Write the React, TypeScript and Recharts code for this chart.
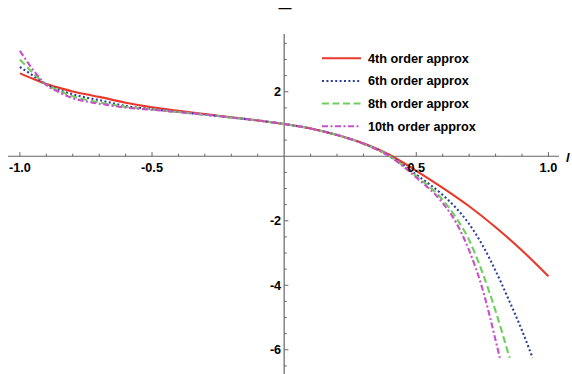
import React from 'react';
import { LineChart, Line, XAxis, YAxis, ReferenceLine, ReferenceDot } from 'recharts';

// 4th order approx (red, solid)
const x4 = [-1, -0.95, -0.9, -0.85, -0.8, -0.75, -0.7, -0.6, -0.5, -0.4, -0.3, -0.2, -0.1, 0, 0.1, 0.2, 0.3, 0.4, 0.5, 0.6, 0.7, 0.8, 0.9, 1.0];
const y4 = [2.57, 2.4, 2.24, 2.12, 2.01, 1.92, 1.84, 1.66, 1.52, 1.41, 1.31, 1.21, 1.11, 1.0, 0.86, 0.66, 0.4, 0.04, -0.45, -0.98, -1.55, -2.2, -2.92, -3.72];

// 6th order approx (blue, dotted)
const x6 = [-1, -0.95, -0.9, -0.85, -0.8, -0.75, -0.7, -0.6, -0.5, -0.4, -0.3, -0.2, -0.1, 0, 0.1, 0.2, 0.3, 0.4, 0.5, 0.6, 0.65, 0.7, 0.75, 0.8, 0.85, 0.9, 0.94];
const y6 = [2.77, 2.5, 2.23, 2.05, 1.92, 1.82, 1.74, 1.56, 1.46, 1.37, 1.29, 1.2, 1.11, 1.0, 0.86, 0.66, 0.39, 0.01, -0.57, -1.2, -1.6, -2.1, -2.75, -3.55, -4.45, -5.4, -6.25];

// 8th order approx (green, dashed)
const x8 = [-1, -0.95, -0.9, -0.85, -0.8, -0.75, -0.7, -0.6, -0.5, -0.4, -0.3, -0.2, -0.1, 0, 0.1, 0.2, 0.3, 0.4, 0.5, 0.6, 0.65, 0.7, 0.75, 0.8, 0.853];
const y8 = [3.0, 2.58, 2.22, 2.03, 1.86, 1.75, 1.67, 1.53, 1.45, 1.37, 1.29, 1.2, 1.11, 1.0, 0.86, 0.66, 0.39, 0.0, -0.62, -1.35, -1.9, -2.6, -3.6, -4.8, -6.25];

// 10th order approx (magenta, dot-dash)
const x10 = [-1, -0.95, -0.9, -0.85, -0.8, -0.75, -0.7, -0.6, -0.5, -0.4, -0.3, -0.2, -0.1, 0, 0.1, 0.2, 0.3, 0.4, 0.5, 0.6, 0.65, 0.7, 0.75, 0.8, 0.816];
const y10 = [3.27, 2.68, 2.21, 1.98, 1.8, 1.7, 1.63, 1.51, 1.44, 1.37, 1.29, 1.2, 1.11, 1.0, 0.86, 0.66, 0.39, -0.01, -0.66, -1.45, -2.05, -2.92, -4.1, -5.7, -6.25];

const xMajorTicks = [-1, -0.5, 0.5, 1];
const xTickLabels = ['-1.0', '-0.5', '0.5', '1.0'];
const xMinorTicks = [-0.9, -0.8, -0.7, -0.6, -0.4, -0.3, -0.2, -0.1, 0.1, 0.2, 0.3, 0.4, 0.6, 0.7, 0.8, 0.9];
const yMajorTicks = [2, -2, -4, -6];
const yTickLabels = ['2', '-2', '-4', '-6'];
const yMinorTicks = [3.5, 3, 2.5, 1.5, 1, 0.5, -0.5, -1, -1.5, -2.5, -3, -3.5, -4.5, -5, -5.5, -6.5];

const seriesNames = ['4th order approx', '6th order approx', '8th order approx', '10th order approx'];
const colors = ['#e8392b', '#2e3f9e', '#6fcf5a', '#c94fc9'];
const dashes = ['', '2 2.4', '7 3.5', '6 2.5 2 2.5'];

const toPoints = (xs: number[], ys: number[]) => xs.map((x, i) => ({ x, y: ys[i] }));
const series = [toPoints(x4, y4), toPoints(x6, y6), toPoints(x8, y8), toPoints(x10, y10)];

const FONT = '"Liberation Sans", Arial, sans-serif';
const labelStyle = { fontFamily: FONT, fontWeight: 700, fontSize: 12.7, fill: '#000' };
const axisColor = '#666';

export default function App() {
  return (
    <div style={{ position: 'absolute', left: 0, top: 0, width: 572, height: 374, background: '#fff' }}>
      <LineChart width={572} height={374} margin={{ top: 34, right: 13, bottom: 0, left: 8 }}>
        <XAxis type="number" dataKey="x" domain={[-1.045, 1.04]} hide allowDuplicatedCategory={false} />
        <YAxis type="number" dataKey="y" domain={[-6.75, 3.79]} hide />

        {/* axes through the origin */}
        <ReferenceLine y={0} stroke={axisColor} strokeWidth={1.2} />
        <ReferenceLine x={0} stroke={axisColor} strokeWidth={1.2} />

        {xMajorTicks.map((t) => (
          <ReferenceLine key={'xM' + t} segment={[{ x: t, y: 0 }, { x: t, y: 0.13 }]} stroke={axisColor} />
        ))}
        {xMinorTicks.map((t) => (
          <ReferenceLine key={'xm' + t} segment={[{ x: t, y: 0 }, { x: t, y: 0.08 }]} stroke={axisColor} />
        ))}
        {yMajorTicks.map((t) => (
          <ReferenceLine key={'yM' + t} segment={[{ x: 0, y: t }, { x: 0.016, y: t }]} stroke={axisColor} />
        ))}
        {yMinorTicks.map((t) => (
          <ReferenceLine key={'ym' + t} segment={[{ x: 0, y: t }, { x: 0.01, y: t }]} stroke={axisColor} />
        ))}

        {xMajorTicks.map((t, i) => (
          <ReferenceDot
            key={'xl' + t}
            x={t}
            y={0}
            r={1}
            fill="none"
            stroke="none"
            label={{ value: xTickLabels[i], position: 'bottom', offset: 6, style: labelStyle }}
          />
        ))}
        {yMajorTicks.map((t, i) => (
          <ReferenceDot
            key={'yl' + t}
            x={0}
            y={t}
            r={1}
            fill="none"
            stroke="none"
            label={{ value: yTickLabels[i], position: 'left', offset: 2, style: labelStyle }}
          />
        ))}

        {series.map((d, i) => (
          <Line
            key={seriesNames[i]}
            data={d}
            dataKey="y"
            name={seriesNames[i]}
            type="monotone"
            stroke={colors[i]}
            strokeWidth={2.1}
            strokeDasharray={dashes[i] || undefined}
            dot={false}
            isAnimationActive={false}
          />
        ))}
      </LineChart>

      <svg width={572} height={374} style={{ position: 'absolute', left: 0, top: 0, pointerEvents: 'none' }}>
        <text x={285} y={12} textAnchor="middle" style={{ ...labelStyle, fontSize: 13 }}>—</text>
        <text x={566} y={162} style={{ ...labelStyle, fontStyle: 'italic' }}>l</text>
        {seriesNames.map((name, i) => {
          const yRow = 58.3 + i * 22.65;
          return (
            <g key={name}>
              <line x1={322} x2={361} y1={yRow} y2={yRow} stroke={colors[i]} strokeWidth={2} strokeDasharray={dashes[i] || undefined} />
              <text x={368} y={yRow + 4.5} style={labelStyle}>{name}</text>
            </g>
          );
        })}
      </svg>
    </div>
  );
}
